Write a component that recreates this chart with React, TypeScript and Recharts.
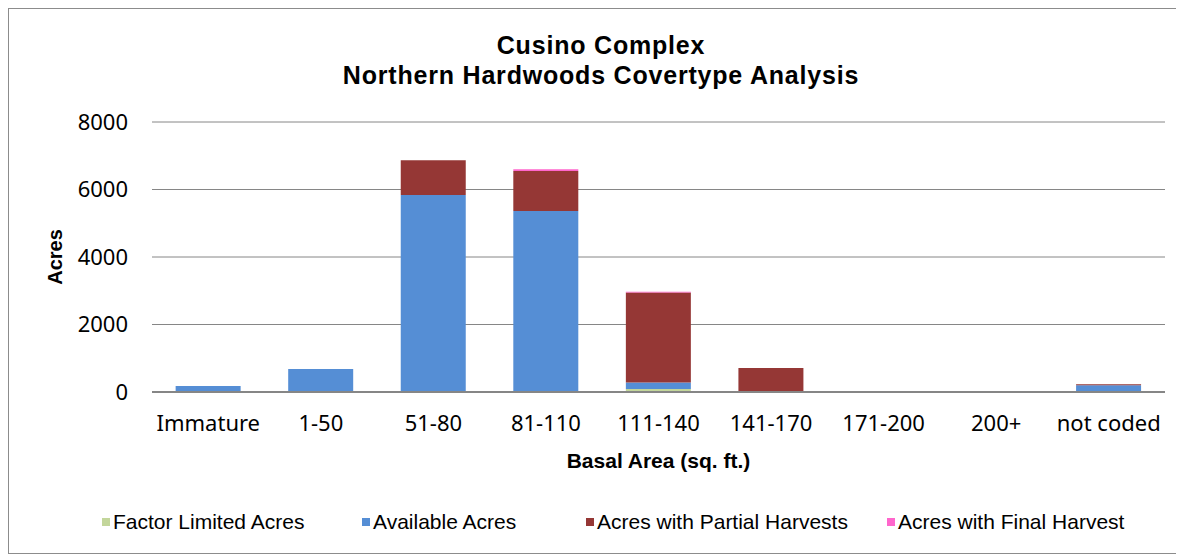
import { BarChart, Bar, XAxis, YAxis, CartesianGrid } from "recharts";

const categories = ["Immature", "1-50", "51-80", "81-110", "111-140", "141-170", "171-200", "200+", "not coded"];
const factorLimited = [0, 0, 0, 0, 90, 0, 0, 0, 0];
const available = [180, 680, 5840, 5360, 190, 0, 0, 0, 200];
const partialHarvest = [0, 0, 1030, 1190, 2670, 710, 0, 0, 30];
const finalHarvest = [0, 0, 0, 50, 20, 0, 0, 0, 0];
const yTicks = [0, 2000, 4000, 6000, 8000];

const series = [
  { key: "factor", name: "Factor Limited Acres", color: "#C3D69B" },
  { key: "available", name: "Available Acres", color: "#558ED5" },
  { key: "partial", name: "Acres with Partial Harvests", color: "#953735" },
  { key: "final", name: "Acres with Final Harvest", color: "#FF66CC" },
];

const data = categories.map((c, i) => ({
  name: c,
  factor: factorLimited[i],
  available: available[i],
  partial: partialHarvest[i],
  final: finalHarvest[i],
}));

// legend square left edges, page coordinates
const legendLeft = [102, 362, 586, 887];

export default function App() {
  return (
    <div
      style={{
        position: "relative",
        width: 1174,
        height: 544,
        border: "1px solid #8c8c8c",
        fontFamily: "'Liberation Sans', Arial, sans-serif",
        background: "#fff",
      }}
    >
      <div
        style={{
          position: "absolute",
          left: 0,
          width: 1184,
          top: 21,
          textAlign: "center",
          fontWeight: "bold",
          fontSize: 25,
          letterSpacing: 0.8,
          lineHeight: "30px",
          color: "#000",
        }}
      >
        Cusino Complex
        <br />
        Northern Hardwoods Covertype Analysis
      </div>
      <BarChart
        width={1174}
        height={544}
        data={data}
        barCategoryGap="21%"
        margin={{ top: 113, right: 18, left: 63, bottom: 101 }}
        style={{ position: "absolute", left: 0, top: 0 }}
      >
        <CartesianGrid vertical={false} stroke="#868686" strokeWidth={1} />
        <XAxis
          dataKey="name"
          height={60}
          tickLine={false}
          axisLine={{ stroke: "#868686", strokeWidth: 2 }}
          tickMargin={17}
          tick={{ fill: "#000", fontSize: 22, fontFamily: "'Noto Sans', sans-serif" }}
          label={{
            value: "Basal Area (sq. ft.)",
            position: "insideBottom",
            offset: 0,
            dy: 16,
            style: { fontWeight: "bold", fontSize: 21, fill: "#000", fontFamily: "'Liberation Sans', Arial" },
          }}
        />
        <YAxis
          width={80}
          domain={[0, 8000]}
          ticks={yTicks}
          tickLine={false}
          axisLine={false}
          tickMargin={18}
          tick={{ fill: "#000", fontSize: 22, fontFamily: "'Noto Sans', sans-serif" }}
          label={{
            value: "Acres",
            angle: -90,
            position: "insideLeft",
            offset: 0,
            dx: -17,
            style: { fontWeight: "bold", fontSize: 20, fill: "#000", textAnchor: "middle", fontFamily: "'Liberation Sans', Arial" },
          }}
        />
        {series.map((s) => (
          <Bar key={s.key} dataKey={s.key} name={s.name} stackId="a" fill={s.color} isAnimationActive={false} />
        ))}
      </BarChart>
      {series.map((s, i) => (
        <div
          key={s.key}
          style={{
            position: "absolute",
            left: legendLeft[i] - 9,
            top: 500,
            display: "flex",
            alignItems: "center",
            fontSize: 21,
            lineHeight: "26px",
            color: "#000",
          }}
        >
          <span style={{ display: "inline-block", width: 8, height: 8, background: s.color, marginRight: 3 }} />
          {s.name}
        </div>
      ))}
    </div>
  );
}
